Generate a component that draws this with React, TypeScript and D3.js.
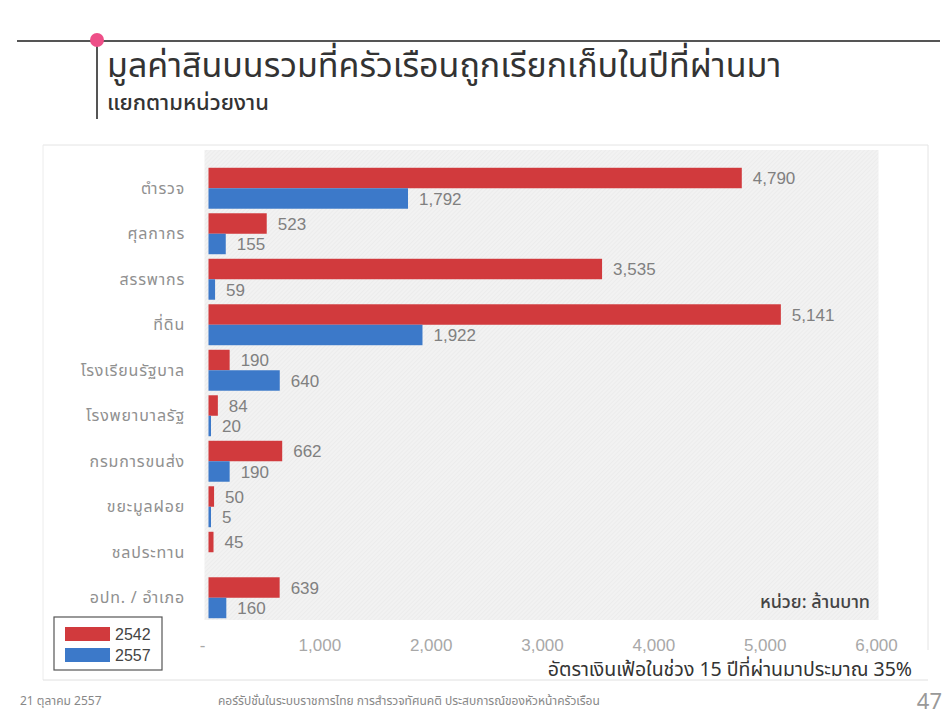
import React from "react";
import * as d3 from "d3";

const categories = [
  "ตำรวจ",
  "ศุลกากร",
  "สรรพากร",
  "ที่ดิน",
  "โรงเรียนรัฐบาล",
  "โรงพยาบาลรัฐ",
  "กรมการขนส่ง",
  "ขยะมูลฝอย",
  "ชลประทาน",
  "อปท. / อำเภอ",
];
const seriesNames = ["2542", "2557"];
const values2542: (number | null)[] = [4790, 523, 3535, 5141, 190, 84, 662, 50, 45, 639];
const values2557: (number | null)[] = [1792, 155, 59, 1922, 640, 20, 190, 5, null, 160];
const xTicks = [0, 1000, 2000, 3000, 4000, 5000, 6000];
const seriesColors = ["#d13a3d", "#3c79c9"];

const title = "มูลค่าสินบนรวมที่ครัวเรือนถูกเรียกเก็บในปีที่ผ่านมา";
const subtitle = "แยกตามหน่วยงาน";
const unitLabel = "หน่วย: ล้านบาท";
const note = "อัตราเงินเฟ้อในช่วง 15 ปีที่ผ่านมาประมาณ 35%";
const footerDate = "21 ตุลาคม 2557";
const footerText = "คอร์รัปชั่นในระบบราชการไทย  การสำรวจทัศนคติ ประสบการณ์ของหัวหน้าครัวเรือน";
const pageNo = "47";

const FONT = "'Noto Sans Thai', 'Noto Sans', 'DejaVu Sans', sans-serif";
const NUMFONT = "'Liberation Sans', Arial, sans-serif";

export default function App() {
  const W = 949;
  const H = 718;
  const x = d3.scaleLinear().domain([0, 6000]).range([208.5, 876.5]);
  const y = d3
    .scaleBand<string>()
    .domain(categories)
    .range([165.5, 620.5])
    .paddingInner(0.1)
    .paddingOuter(0.05);
  const ySub = d3.scaleBand<string>().domain(seriesNames).range([0, y.bandwidth()]);
  const fmt = d3.format(",");
  const series = [values2542, values2557];

  return (
    <svg
      width={W}
      height={H}
      style={{ position: "absolute", left: 0, top: 0, background: "#fff" }}
      fontFamily={FONT}
    >
      <defs>
        <pattern id="hatch" width="3" height="3" patternUnits="userSpaceOnUse" patternTransform="rotate(45)">
          <rect width="3" height="3" fill="#f2f2f2" />
          <line x1="0" y1="0" x2="0" y2="3" stroke="#e7e7e7" strokeWidth="1" />
        </pattern>
      </defs>

      {/* header */}
      <line x1={17} x2={940} y1={41} y2={41} stroke="#555" strokeWidth={2} />
      <line x1={97} x2={97} y1={41} y2={119} stroke="#555" strokeWidth={2} />
      <circle cx={97} cy={40} r={7} fill="#ee4f88" />
      <text x={107} y={77} fontSize={34} fill="#333">
        {title}
      </text>
      <text x={107} y={110} fontSize={22} fill="#333" fontWeight={500}>
        {subtitle}
      </text>

      {/* panel */}
      <line x1={43} x2={928} y1={145} y2={145} stroke="#e4e4e4" />
      <line x1={43} x2={43} y1={145} y2={680} stroke="#ececec" />
      <line x1={928} x2={928} y1={145} y2={650} stroke="#e4e4e4" />
      <line x1={43} x2={928} y1={680} y2={680} stroke="#e0e0e0" />
      <rect x={x(0) - 4} y={150} width={x(6000) - x(0) + 6} height={470} fill="url(#hatch)" />

      {/* bars */}
      {categories.map((c, i) => (
        <g key={c}>
          {series.map((vals, s) => {
            const v = vals[i];
            if (v == null) return null;
            const y0 = (y(c) as number) + (ySub(seriesNames[s]) as number);
            const bh = ySub.bandwidth();
            return (
              <g key={s}>
                <rect
                  x={x(0)}
                  y={y0}
                  width={Math.max(x(v) - x(0), 2.5)}
                  height={bh}
                  fill={seriesColors[s]}
                />
                <text
                  x={Math.max(x(v), x(0) + 2.5) + 11}
                  y={y0 + bh / 2}
                  dy="0.36em"
                  fontSize={17}
                  fill="#808080"
                  fontFamily={NUMFONT}
                >
                  {fmt(v)}
                </text>
              </g>
            );
          })}
          <text
            x={185}
            y={(y(c) as number) + y.bandwidth() / 2}
            dy="0.35em"
            textAnchor="end"
            fontSize={16}
            letterSpacing={0.8}
            fill="#909090"
          >
            {c}
          </text>
        </g>
      ))}

      {/* x tick labels */}
      {xTicks.map((t) => (
        <text
          key={t}
          x={x(t) - (t === 0 ? 6 : 0)}
          y={651}
          textAnchor="middle"
          fontSize={17}
          fill="#a8a8a8"
          fontFamily={NUMFONT}
        >
          {t === 0 ? "-" : fmt(t)}
        </text>
      ))}

      <text x={870} y={608} textAnchor="end" fontSize={18} fill="#444" fontWeight={500}>
        {unitLabel}
      </text>
      <text x={912} y={676} textAnchor="end" fontSize={19.5} fill="#333">
        {note}
      </text>

      {/* legend */}
      <rect x={54} y={617} width={108} height={53} fill="#fff" stroke="#555" strokeWidth={1.2} />
      {seriesNames.map((s, i) => (
        <g key={s}>
          <rect x={65} y={627 + i * 21} width={45} height={14} fill={seriesColors[i]} />
          <text x={115} y={634 + i * 21} dy="0.36em" fontSize={16} fill="#444" fontFamily={NUMFONT}>
            {s}
          </text>
        </g>
      ))}

      {/* footer */}
      <text x={20} y={705} fontSize={12} fill="#888">
        {footerDate}
      </text>
      <text x={218} y={705} fontSize={12} fill="#888">
        {footerText}
      </text>
      <text x={942} y={709} textAnchor="end" fontSize={22} fill="#999">
        {pageNo}
      </text>
    </svg>
  );
}
